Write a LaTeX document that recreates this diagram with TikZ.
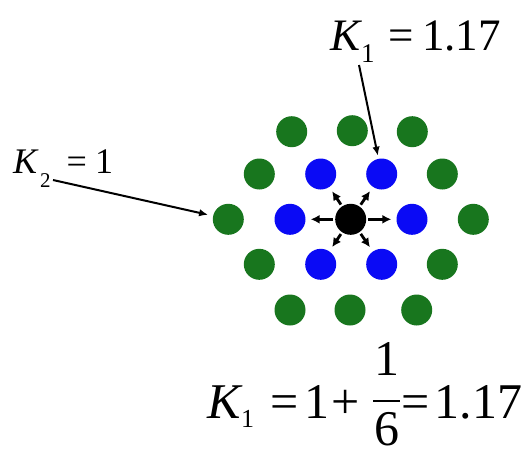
\documentclass[tikz,border=0pt]{standalone}
\usepackage{fontspec}
\setmainfont{Liberation Serif}
\usetikzlibrary{arrows.meta}
\definecolor{dotgreen}{RGB}{24,118,30}
\definecolor{dotblue}{RGB}{10,10,245}
\begin{document}
\begin{tikzpicture}[x=1pt,y=-1pt,
  dot/.style={circle,inner sep=0pt,minimum size=31pt},
  gdot/.style={dot,fill=dotgreen},
  bdot/.style={dot,fill=dotblue},
  cdot/.style={dot,fill=black},
  small/.style={line width=2.8pt,-{Latex[length=9pt,width=9pt]},shorten <=2pt,shorten >=5pt},
  long/.style={line width=2pt,-{Latex[length=9pt,width=7.5pt]}},
  lbl/.style={inner sep=0pt,anchor=base west},
  eqf/.style={lbl,font=\fontsize{50}{50}\selectfont},
  eqsub/.style={lbl,font=\fontsize{26}{26}\selectfont}]
\clip (0,0) rectangle (528,456);
\fill[white] (0,0) rectangle (528,456);
% centre
\node[cdot] (c) at (350.7,219.3) {};
% blue ring
\node[bdot] (bl)  at (290,219.3) {};
\node[bdot] (br)  at (412,219.3) {};
\node[bdot] (bul) at (320.7,174) {};
\node[bdot] (bur) at (381.7,174) {};
\node[bdot] (bll) at (320.7,264.3) {};
\node[bdot] (blr) at (381.7,264.3) {};
% green ring
\node[gdot] (g1)  at (291.7,131.7) {};
\node[gdot] (g2)  at (352.3,130.7) {};
\node[gdot] (g3)  at (412.3,131.7) {};
\node[gdot] (g4)  at (259.3,174) {};
\node[gdot] (g5)  at (442.3,174) {};
\node[gdot] (g6)  at (228.3,219.3) {};
\node[gdot] (g7)  at (473.3,219.3) {};
\node[gdot] (g8)  at (259.3,264.3) {};
\node[gdot] (g9)  at (442.3,264.3) {};
\node[gdot] (g10) at (290,310) {};
\node[gdot] (g11) at (350,310) {};
\node[gdot] (g12) at (416.7,310) {};
% small arrows
\foreach \t in {bl,br,bul,bur,bll,blr}
  \draw[small] (c) -- (\t);
% top labels
\node[lbl,font=\fontsize{45}{45}\selectfont] (tK1) at (330,50)
  {\itshape K\upshape\kern1pt\raisebox{-12pt}{\fontsize{27}{27}\selectfont 1}\kern14pt=\kern8pt1.17};
\node[lbl,font=\fontsize{36}{36}\selectfont] (tK2) at (13,173)
  {\itshape K\upshape\kern3pt\raisebox{-14pt}{\fontsize{21}{21}\selectfont 2}\kern16pt=\kern8pt1};
% bottom equation
\node[eqf]   (eK)  at (207,418)   {\itshape K};
\node[eqsub] (eK1) at (241,427)   {1};
\node[eqf]   (eq1) at (270.5,418) {=};
\node[eqf]   (e1)  at (304,418)   {1};
\node[eqf]   (epl) at (331.5,418) {+};
\node[eqf,anchor=base,text depth=0pt] (enum) at (387,375) {1};
\node[eqf,anchor=base,text depth=0pt] (eden) at (387,445) {6};
\draw[line width=1.4pt] (373,401) -- (400,401);
\node[eqf]   (eq2) at (401.5,418) {=};
\node[eqf]   (eres) at (434.5,418) {1.17};
% long arrows
\coordinate (k1s) at (359,65);
\coordinate (k2s) at (53,180);
\draw[long,shorten >=3pt] (k1s) -- (bur);
\draw[long,shorten >=5pt] (k2s) -- (g6);
\end{tikzpicture}
\end{document}
